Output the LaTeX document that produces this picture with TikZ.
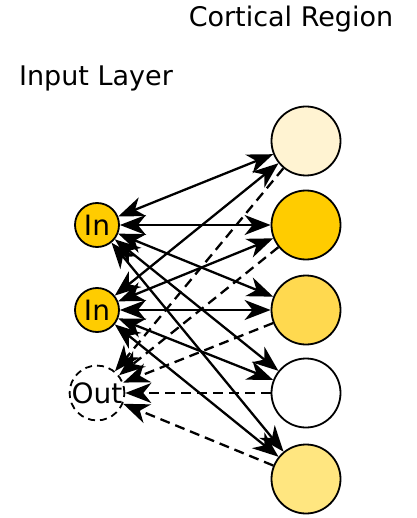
\documentclass[tikz,border=0pt]{standalone}
\usepackage{fontspec}
\setmainfont{DejaVu Sans}
\usetikzlibrary{arrows.meta}
\definecolor{cA}{HTML}{FFF3D2}
\definecolor{cB}{HTML}{FFCC00}
\definecolor{cC}{HTML}{FFD94F}
\definecolor{cD}{HTML}{FFFFFF}
\definecolor{cE}{HTML}{FFE680}
\begin{document}
\begin{tikzpicture}[x=1pt,y=-1pt,
  small/.style={circle,draw,line width=1.8pt,minimum size=44pt,inner sep=0pt,font=\fontsize{28}{30}\selectfont},
  big/.style={circle,draw,line width=1.8pt,minimum size=69pt,inner sep=0pt},
  link/.style={line width=2.3pt,{Stealth[length=26pt,width=20pt,inset=8pt]}-{Stealth[length=26pt,width=20pt,inset=8pt]}},
  back/.style={line width=2.3pt,dash pattern=on 10pt off 6pt,-{Stealth[length=26pt,width=20pt,inset=8pt]}},
  title/.style={font=\fontsize{27}{29}\selectfont,anchor=base}]
\useasboundingbox (0,0) rectangle (416,518);
\node[title] (tc) at (291,27) {Cortical Region};
\node[title] (ti) at (96,86) {Input Layer};
\node[small,fill=cB] (i1) at (97,225) {In};
\node[small,fill=cB] (i2) at (97,310) {In};
\node[small,dash pattern=on 7pt off 5pt] (o) at (97,393) {Out};
\node[big,fill=cA] (r1) at (306,141) {};
\node[big,fill=cB] (r2) at (306,225) {};
\node[big,fill=cC] (r3) at (306,310) {};
\node[big,fill=cD] (r4) at (306,393) {};
\node[big,fill=cE] (r5) at (306,479) {};
\foreach \r in {r1,r2,r3,r4,r5}{
  \draw[back] (\r) -- (o);
  \draw[link] (i1) -- (\r);
  \draw[link] (i2) -- (\r);
}
\end{tikzpicture}
\end{document}
